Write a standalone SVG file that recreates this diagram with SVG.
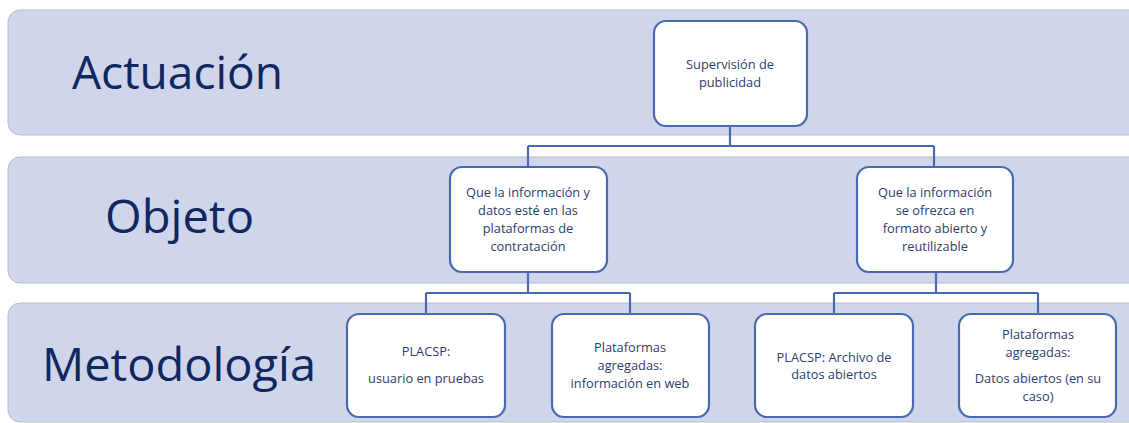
<svg xmlns="http://www.w3.org/2000/svg" width="1129" height="423" viewBox="0 0 1129 423">
<defs>
<style>
.band{fill:#CFD5EA;stroke:#B9BDC6;stroke-width:1}
.title{font-family:"Open Sans","Liberation Sans",sans-serif;fill:#102760}
.node rect{fill:#FFFFFF;stroke:#4A6AAE;stroke-width:2.2}
.node text{font-family:"Open Sans","Liberation Sans",sans-serif;font-size:12.8px;fill:#2E3E6E;text-anchor:middle}
.conn{fill:none;stroke:#4A6AAE;stroke-width:2.2}
</style>
</defs>
<rect width="1129" height="423" fill="#FFFFFF"/>
<g id="bands">
<rect class="band" x="8" y="10" width="1135" height="125" rx="12"/>
<rect class="band" x="8" y="157" width="1135" height="126" rx="12"/>
<rect class="band" x="8" y="303" width="1135" height="119" rx="12"/>
<text class="title" x="72" y="89" font-size="45" textLength="211" lengthAdjust="spacingAndGlyphs">Actuación</text>
<text class="title" x="105" y="233" font-size="45" textLength="149" lengthAdjust="spacingAndGlyphs">Objeto</text>
<text class="title" x="42" y="381" font-size="45" textLength="274" lengthAdjust="spacingAndGlyphs">Metodología</text>
</g>
<g id="connectors">
<path class="conn" d="M730 126 V146 M528 146 H934 M528 146 V167 M934 146 V167"/>
<path class="conn" d="M528 272 V293 M426 293 H630 M426 293 V314 M630 293 V314"/>
<path class="conn" d="M936 272 V293 M834 293 H1038 M834 293 V314 M1038 293 V314"/>
</g>
<g id="n-supervision" class="node">
<rect x="654" y="21" width="153" height="105" rx="12"/>
<text x="730" y="69">Supervisión de</text>
<text x="730" y="87">publicidad</text>
</g>
<g id="n-objeto1" class="node">
<rect x="450" y="167" width="157" height="105" rx="12"/>
<text x="528" y="197">Que la información y</text>
<text x="528" y="215">datos esté en las</text>
<text x="528" y="233">plataformas de</text>
<text x="528" y="251">contratación</text>
</g>
<g id="n-objeto2" class="node">
<rect x="857" y="167" width="156" height="105" rx="12"/>
<text x="935" y="197">Que la información</text>
<text x="935" y="215">se ofrezca en</text>
<text x="935" y="233">formato abierto y</text>
<text x="935" y="251">reutilizable</text>
</g>
<g id="n-placsp1" class="node">
<rect x="347" y="314" width="158" height="103" rx="12"/>
<text x="426" y="356">PLACSP:</text>
<text x="426" y="383">usuario en pruebas</text>
</g>
<g id="n-plataformas1" class="node">
<rect x="552" y="314" width="157" height="103" rx="12"/>
<text x="630" y="352">Plataformas</text>
<text x="630" y="370">agregadas:</text>
<text x="630" y="388">información en web</text>
</g>
<g id="n-placsp2" class="node">
<rect x="755" y="314" width="158" height="103" rx="12"/>
<text x="834" y="362">PLACSP: Archivo de</text>
<text x="834" y="379">datos abiertos</text>
</g>
<g id="n-plataformas2" class="node">
<rect x="959" y="314" width="157" height="103" rx="12"/>
<text x="1038" y="339">Plataformas</text>
<text x="1038" y="357">agregadas:</text>
<text x="1038" y="383">Datos abiertos (en su</text>
<text x="1038" y="401">caso)</text>
</g>
</svg>
